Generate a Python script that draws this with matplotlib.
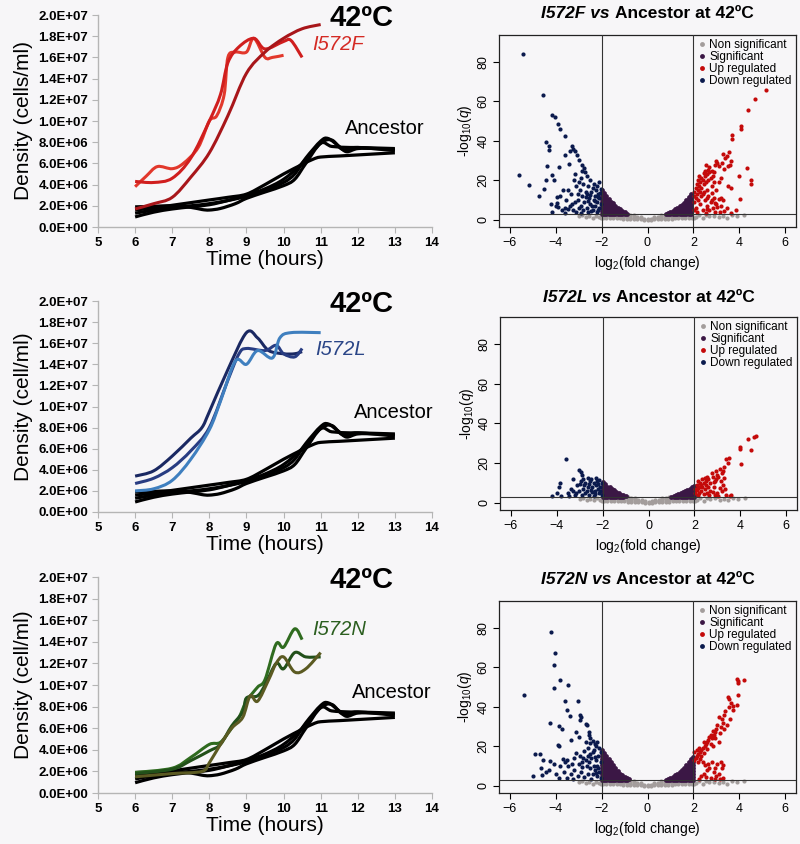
import matplotlib
matplotlib.use("Agg")
import matplotlib.pyplot as plt
from matplotlib.lines import Line2D
from matplotlib.path import Path
from matplotlib.patches import PathPatch
from matplotlib.ticker import FuncFormatter, MultipleLocator

plt.rcParams['font.family'] = ['Liberation Sans', 'DejaVu Sans']
plt.rcParams['mathtext.fontset'] = 'custom'
plt.rcParams['mathtext.rm'] = 'Liberation Sans'
plt.rcParams['mathtext.it'] = 'Liberation Sans:italic'

BG = '#f7f6f8'

# ---------------- growth curves (hours, density in 1e6 cells/ml) ----------------
ANC_T = [
    [6, 6.5, 7, 7.5, 8, 8.5, 9, 9.5, 10, 10.3, 10.6, 11, 11.2, 11.5, 11.7, 12, 12.5, 13],
    [6, 6.5, 7, 7.5, 7.8, 8, 8.3, 8.7, 9, 9.5, 10, 10.3, 10.6, 11, 11.3, 11.8, 12, 13],
    [6, 6.5, 7, 7.5, 8, 8.5, 9, 9.5, 10, 10.5, 10.8, 11, 11.5, 12, 13],
    [6, 6.5, 7, 7.5, 8, 8.5, 9, 9.5, 10, 10.5, 11, 11.3, 11.6, 12, 13],
]
ANC_Y = [
    [1.3, 1.6, 1.85, 2.0, 2.2, 2.5, 2.9, 3.5, 4.2, 5.0, 6.5, 8.1, 8.35, 7.6, 7.1, 7.4, 7.4, 7.3],
    [1.9, 1.95, 2.0, 1.85, 1.65, 1.6, 1.75, 2.2, 2.7, 3.3, 3.9, 4.5, 6.0, 7.9, 7.6, 7.5, 7.5, 7.4],
    [1.6, 1.8, 2.05, 2.3, 2.55, 2.8, 3.1, 4.0, 5.0, 5.9, 6.4, 6.6, 6.7, 6.8, 7.0],
    [0.95, 1.4, 1.7, 1.9, 2.1, 2.5, 3.0, 3.6, 4.5, 6.0, 7.9, 8.2, 7.3, 7.5, 7.2],
]

F_T = [
    [6, 6.3, 6.6, 7, 7.3, 7.7, 8, 8.2, 8.4, 8.5, 8.7, 9, 9.2, 9.5, 9.7, 10],
    [6, 6.5, 7, 7.5, 8, 8.3, 8.5, 8.8, 9.2, 9.5, 10, 10.2, 10.5],
    [6, 6.5, 7, 7.5, 8, 8.5, 9, 9.5, 10, 10.5, 11],
]
F_Y = [
    [3.8, 4.8, 5.7, 5.5, 6.0, 7.5, 10.0, 10.5, 12.5, 16.0, 16.5, 16.5, 17.8, 16.0, 16.0, 16.2],
    [4.3, 4.2, 4.6, 6.5, 10.0, 12.5, 15.5, 17.0, 17.8, 16.8, 17.5, 17.6, 16.0],
    [1.7, 2.2, 2.8, 4.7, 7.0, 10.5, 14.5, 16.5, 17.8, 18.7, 19.1],
]
F_COL = ['#e2382c', '#d01e1e', '#a8161a']

L_T = [
    [6, 6.5, 7, 7.5, 7.8, 8, 8.5, 9, 9.3, 9.6, 10, 10.3, 10.5],
    [6, 6.5, 7, 7.5, 8, 8.5, 8.8, 9, 9.5, 9.8, 10, 10.3, 10.5],
    [6, 6.5, 7, 7.5, 8, 8.3, 8.7, 9, 9.3, 9.7, 9.9, 10.2, 11],
]
L_Y = [
    [3.4, 3.9, 5.3, 7.0, 8.0, 9.5, 13.5, 17.0, 16.5, 15.3, 15.0, 15.0, 15.2],
    [2.7, 3.2, 4.2, 5.8, 8.0, 12.5, 15.0, 15.5, 15.3, 15.8, 15.0, 14.7, 15.5],
    [2.0, 2.2, 3.0, 5.0, 7.8, 10.5, 14.3, 14.0, 15.3, 14.6, 16.5, 17.0, 17.0],
]
L_COL = ['#1a2862', '#283c82', '#3f7fbf']

N_T = [
    [6, 7, 7.5, 8, 8.3, 8.6, 8.8, 9, 9.3, 9.5, 9.8, 10, 10.3, 10.5],
    [6, 7, 7.5, 8, 8.3, 8.6, 8.9, 9, 9.3, 9.5, 9.8, 10, 10.3, 10.6, 11],
    [6, 7, 7.8, 8, 8.3, 8.6, 8.9, 9.1, 9.3, 9.6, 9.8, 10, 10.3, 10.6, 11],
]
N_Y = [
    [1.9, 2.3, 3.3, 4.5, 4.7, 6.0, 7.0, 8.5, 9.8, 10.5, 13.8, 13.5, 15.2, 14.2],
    [1.8, 2.2, 3.0, 3.9, 4.5, 6.2, 7.5, 8.8, 9.0, 10.0, 12.0, 11.5, 13.0, 12.6, 12.6],
    [1.5, 1.8, 2.0, 2.8, 4.5, 6.0, 7.0, 9.0, 8.5, 10.5, 12.0, 12.6, 11.2, 11.5, 13.0],
]
N_COL = ['#2f6b1f', '#22501a', '#5b5a22']

MUT_NAMES = ['I572F', 'I572L', 'I572N']
MUT_LABEL_COL = ['#d42a24', '#2a4587', '#2b5e1f']
YLABELS = ['Density (cells/ml)', 'Density (cell/ml)', 'Density (cell/ml)']

# ---------------- volcano data (log2 fold change, -log10 q) ----------------
GRAY = [(0.0, 0.1), (0.0, 0.6), (0.15, 0.15), (0.15, 0.7), (-0.15, 0.15), (-0.15, 0.7),
        (0.3, 0.2), (0.3, 0.8), (0.3, 1.3), (-0.3, 0.2), (-0.3, 0.8), (-0.3, 1.3),
        (0.45, 0.3), (0.45, 0.9), (0.45, 1.5), (-0.45, 0.3), (-0.45, 0.9), (-0.45, 1.5),
        (0.6, 0.4), (0.6, 1.0), (0.6, 1.7), (0.6, 2.3), (-0.6, 0.4), (-0.6, 1.0), (-0.6, 1.7), (-0.6, 2.3),
        (0.75, 0.5), (0.75, 1.2), (0.75, 1.9), (0.75, 2.6), (-0.75, 0.5), (-0.75, 1.2), (-0.75, 1.9), (-0.75, 2.6),
        (0.9, 0.6), (0.9, 1.3), (0.9, 2.0), (0.9, 2.8), (-0.9, 0.6), (-0.9, 1.3), (-0.9, 2.0), (-0.9, 2.8),
        (1.05, 0.7), (1.05, 1.4), (1.05, 2.2), (1.05, 2.9), (-1.05, 0.7), (-1.05, 1.4), (-1.05, 2.2), (-1.05, 2.9),
        (1.2, 0.8), (1.2, 1.6), (1.2, 2.4), (-1.2, 0.8), (-1.2, 1.6), (-1.2, 2.4),
        (1.35, 0.8), (1.35, 1.7), (1.35, 2.5), (-1.35, 0.8), (-1.35, 1.7), (-1.35, 2.5),
        (1.5, 0.9), (1.5, 1.8), (1.5, 2.6), (-1.5, 0.9), (-1.5, 1.8), (-1.5, 2.6),
        (1.65, 1.0), (1.65, 1.9), (1.65, 2.7), (-1.65, 1.0), (-1.65, 1.9), (-1.65, 2.7),
        (1.8, 1.0), (1.8, 2.0), (1.8, 2.8), (-1.8, 1.0), (-1.8, 2.0), (-1.8, 2.8),
        (1.95, 1.1), (1.95, 2.1), (-1.95, 1.1), (-1.95, 2.1),
        (-2.1, 1.5), (-2.25, 2.2), (-2.4, 1.2), (-2.55, 2.0), (-2.7, 1.6), (-2.85, 2.4), (-3.0, 1.8),
        (2.1, 1.4), (2.25, 2.3), (2.4, 1.0), (2.55, 2.5), (2.7, 1.8), (2.9, 2.2), (3.1, 1.5),
        (3.3, 2.0), (3.45, 1.2), (3.7, 2.4), (4.2, 2.5), (3.9, 1.8), (2.05, 0.8), (-2.05, 0.9)]

PURPLE_F = [(-2.0, [3, 4.5, 6, 7.5, 9, 10.5, 12, 13.5, 15]), (-1.9, [3, 4.5, 6, 7.5, 9, 10.5, 12, 13.5]),
            (-1.8, [3, 4.5, 6, 7.5, 9, 10.5, 12]), (-1.7, [3, 4.5, 6, 7.5, 9, 10.5]),
            (-1.6, [3, 4.5, 6, 7.5, 9]), (-1.5, [3, 4.5, 6, 7.5, 8.5]), (-1.4, [3, 4.5, 6, 7.2]),
            (-1.3, [3, 4.5, 6]), (-1.2, [3, 4.3, 5.3]), (-1.1, [3, 4.3]), (-1.0, [3, 3.8]), (-0.9, [3.2]),
            (0.8, [3.2]), (0.9, [3, 3.6]), (1.0, [3, 4]), (1.1, [3, 4.3]), (1.2, [3, 4.5, 5.3]),
            (1.3, [3, 4.5, 6]), (1.4, [3, 4.5, 6, 7]), (1.5, [3, 4.5, 6, 7.5]), (1.6, [3, 4.5, 6, 7.5, 8.5]),
            (1.7, [3, 4.5, 6, 7.5, 9, 10]), (1.8, [3, 4.5, 6, 7.5, 9, 10.5, 11.5]),
            (1.9, [3, 4.5, 6, 7.5, 9, 10.5, 12, 13])]
PURPLE_L = [(-2.0, [3, 4.3, 5.6, 6.9, 8.2, 9.5, 10.5]), (-1.9, [3, 4.3, 5.6, 6.9, 8.2, 9.5]),
            (-1.8, [3, 4.3, 5.6, 6.9, 8.2]), (-1.7, [3, 4.3, 5.6, 6.9, 7.8]), (-1.6, [3, 4.3, 5.6, 6.9]),
            (-1.5, [3, 4.3, 5.6, 6.3]), (-1.4, [3, 4.3, 5.5]), (-1.3, [3, 4.2, 5]), (-1.2, [3, 4.2]),
            (-1.1, [3, 3.8]), (-1.0, [3.2]),
            (1.0, [3.1]), (1.1, [3, 3.6]), (1.2, [3, 4]), (1.3, [3, 4.3]), (1.4, [3, 4.2, 4.8]),
            (1.5, [3, 4.2, 5.3]), (1.6, [3, 4.2, 5.4, 6]), (1.7, [3, 4.2, 5.4, 6.5]),
            (1.8, [3, 4.2, 5.4, 6.6, 7.2]), (1.9, [3, 4.2, 5.4, 6.6, 7.8]), (1.97, [3, 4.2, 5.4, 6.6, 7.8, 8.5])]
PURPLE_N = [(-2.0, [3, 4.5, 6, 7.5, 9, 10.5, 12, 13.5, 15, 16.5, 18]),
            (-1.9, [3, 4.5, 6, 7.5, 9, 10.5, 12, 13.5, 15, 16.5]),
            (-1.8, [3, 4.5, 6, 7.5, 9, 10.5, 12, 13.5, 15]), (-1.7, [3, 4.5, 6, 7.5, 9, 10.5, 12, 13.5]),
            (-1.6, [3, 4.5, 6, 7.5, 9, 10.5, 12]), (-1.5, [3, 4.5, 6, 7.5, 9, 10.5]),
            (-1.4, [3, 4.5, 6, 7.5, 9]), (-1.3, [3, 4.5, 6, 7.5]), (-1.2, [3, 4.5, 6]),
            (-1.1, [3, 4.5, 5.3]), (-1.0, [3, 4.3]), (-0.9, [3, 3.8]), (-0.8, [3.3]),
            (0.8, [3.1]), (0.9, [3, 3.6]), (1.0, [3, 4.2]), (1.1, [3, 4.5]), (1.2, [3, 4.5, 5.5]),
            (1.3, [3, 4.5, 6]), (1.4, [3, 4.5, 6, 7]), (1.5, [3, 4.5, 6, 7.5, 8.2]),
            (1.6, [3, 4.5, 6, 7.5, 9]), (1.7, [3, 4.5, 6, 7.5, 9, 10.5]),
            (1.8, [3, 4.5, 6, 7.5, 9, 10.5, 12]), (1.9, [3, 4.5, 6, 7.5, 9, 10.5, 12, 13.5]),
            (1.97, [3, 4.5, 6, 7.5, 9, 10.5, 12, 13.5, 14.5])]

F_DOWN = [(-5.45, 84), (-4.55, 63), (-4.15, 53), (-4.05, 52), (-3.9, 48.5), (-3.82, 46), (-3.62, 42.5),
          (-4.45, 39.5), (-4.32, 37.5), (-4.32, 35.5), (-3.3, 37.5), (-3.25, 36), (-3.38, 35), (-3.18, 35),
          (-3.08, 33), (-3.58, 33), (-2.98, 30.5), (-2.88, 28), (-2.78, 26.5), (-3.85, 27), (-4.4, 27.5),
          (-3.42, 28.5), (-2.85, 25), (-2.72, 24), (-2.62, 22), (-2.52, 20), (-5.6, 22.8), (-5.15, 17.8),
          (-4.72, 12.2), (-4.5, 15.5), (-4.42, 20.2), (-4.18, 22.5), (-4.08, 20), (-4.2, 8), (-4.18, 4),
          (-3.95, 8.5), (-3.9, 6.5), (-3.8, 12), (-3.68, 15), (-3.6, 6), (-3.55, 10), (-3.48, 5.5),
          (-3.45, 15), (-3.35, 13), (-3.3, 8), (-3.25, 5), (-3.2, 20), (-3.12, 17), (-3.05, 10), (-3.0, 19),
          (-2.95, 15), (-2.92, 7), (-2.85, 12), (-2.8, 18), (-2.8, 5), (-2.75, 9), (-2.7, 14), (-2.65, 6),
          (-2.6, 17), (-2.55, 11), (-2.5, 8), (-2.45, 14), (-2.4, 16), (-2.4, 5), (-2.35, 10), (-2.3, 12),
          (-2.3, 7), (-2.25, 15), (-2.2, 9), (-2.2, 4), (-2.15, 13), (-2.1, 11), (-2.1, 6), (-2.05, 15.5),
          (-2.05, 8), (-3.6, 3.5), (-3.1, 4), (-2.9, 3.5), (-2.6, 3.8), (-2.45, 4.5), (-2.15, 5),
          (-2.68, 11.5), (-2.9, 21), (-3.02, 13), (-3.15, 23), (-3.95, 11.8), (-2.5, 12.5), (-2.35, 18),
          (-2.2, 17), (-2.12, 19), (-4.0, 7.2), (-3.75, 5), (-3.4, 6.8), (-3.15, 9), (-2.98, 6),
          (-2.58, 9.5), (-2.28, 9.8), (-2.18, 11.5), (-2.08, 13.5), (-2.42, 7), (-2.62, 13)]
F_UP = [(5.15, 66), (4.7, 61), (4.4, 55.5), (4.1, 47.5), (4.1, 46), (3.7, 43), (3.68, 41), (3.55, 34.5),
        (3.45, 32.5), (3.3, 33.5), (3.38, 31.5), (3.65, 30), (3.6, 28), (3.5, 27.5), (3.25, 29), (3.0, 30),
        (3.05, 29), (3.1, 27.5), (2.95, 28), (4.35, 26.5), (4.52, 20), (4.52, 18), (4.0, 22), (4.02, 10.5),
        (3.65, 16), (3.85, 5), (3.65, 3.5), (3.45, 6), (3.3, 10), (3.2, 21), (3.1, 19), (3.0, 15), (2.9, 24),
        (2.85, 22), (2.8, 25), (2.75, 21), (2.7, 24), (2.65, 20), (2.6, 23), (2.55, 19), (2.5, 22),
        (2.45, 18), (2.4, 20), (2.35, 16), (2.3, 19), (2.25, 17), (2.2, 15), (2.15, 13), (2.1, 16),
        (2.05, 12), (2.05, 9), (2.1, 6), (2.15, 4), (2.2, 10), (2.3, 8), (2.35, 12), (2.4, 5), (2.45, 14),
        (2.5, 10), (2.55, 3.5), (2.6, 7), (2.65, 12), (2.7, 5), (2.75, 9), (2.8, 10), (2.85, 6), (2.9, 11),
        (2.95, 4), (3.0, 8), (3.05, 6.5), (3.1, 10.5), (3.15, 4), (3.2, 7), (2.25, 22), (2.5, 25), (2.7, 27),
        (2.8, 17), (2.6, 15), (2.4, 13), (2.2, 20), (2.05, 14), (2.05, 5), (2.55, 28), (3.35, 26),
        (2.15, 18), (2.35, 21), (2.45, 23.5), (2.65, 25.5), (2.9, 19), (3.2, 11), (3.5, 17), (2.6, 11),
        (2.8, 13.5), (2.1, 11), (2.3, 14), (2.95, 8.5), (3.35, 4.5), (2.6, 5.5)]

L_DOWN = [(-3.6, 22), (-3.85, 10), (-3.9, 8.2), (-3.98, 5), (-3.8, 3.5), (-4.2, 3.2), (-3.5, 5), (-3.4, 7),
          (-3.3, 6), (-3.2, 4), (-3.1, 9), (-3.02, 16.5), (-2.95, 15.5), (-2.9, 14), (-2.95, 11), (-3.0, 9.5),
          (-2.85, 12), (-2.8, 9), (-2.75, 10), (-2.7, 6), (-2.65, 8), (-2.6, 4), (-2.55, 11), (-2.5, 12),
          (-2.45, 8), (-2.4, 10), (-2.35, 6), (-2.3, 9), (-2.25, 11), (-2.2, 7), (-2.15, 5), (-2.1, 8),
          (-2.05, 10), (-2.05, 4), (-3.3, 12), (-2.9, 4), (-2.4, 3.5), (-3.05, 6), (-2.65, 12.5),
          (-2.2, 9.5), (-2.1, 6), (-2.35, 4.5), (-2.5, 6.5), (-2.75, 4.8), (-2.15, 11.5), (-2.3, 12.5),
          (-3.15, 5), (-2.85, 7), (-2.6, 9.5), (-2.45, 5.5), (-3.45, 3.5)]
L_UP = [(4.7, 33.5), (4.62, 33), (4.35, 32), (4.48, 26.5), (4.0, 28), (4.0, 27), (4.02, 19.5), (3.5, 22.5),
        (3.4, 22), (3.45, 20), (3.3, 18), (3.25, 16), (3.1, 17), (3.2, 15), (3.0, 14), (3.05, 13),
        (2.95, 12), (2.9, 11), (2.8, 13), (2.7, 10), (2.6, 12), (2.5, 11), (2.4, 10), (2.3, 9), (2.2, 8),
        (2.1, 9), (2.05, 7), (2.05, 5), (2.15, 4), (2.3, 6), (2.45, 7), (2.55, 5), (2.7, 6), (2.85, 8),
        (3.0, 5), (3.05, 3.5), (3.2, 6), (3.35, 7), (3.4, 4), (3.55, 3.5), (3.62, 4), (3.25, 9),
        (3.15, 11), (2.9, 4), (2.6, 8), (2.35, 12), (2.15, 11), (2.25, 10), (2.5, 9), (2.75, 15),
        (2.95, 16), (2.1, 6.5), (2.2, 5), (2.4, 4.5), (2.65, 3.8), (2.8, 5.5), (3.1, 7.5), (2.45, 12.5),
        (2.55, 13), (2.35, 8), (2.15, 7.5), (3.3, 12.5), (2.85, 10.5)]

N_DOWN = [(-4.2, 78), (-4.05, 67.5), (-4.1, 61), (-4.1, 49.5), (-3.8, 53.5), (-3.45, 51), (-5.4, 46),
          (-3.6, 43), (-3.05, 43), (-3.5, 38.5), (-3.4, 35.5), (-2.95, 36), (-2.9, 35), (-2.95, 33.5),
          (-4.25, 32), (-3.85, 30.5), (-3.75, 29), (-2.7, 31.5), (-2.65, 31), (-3.35, 23), (-3.1, 27.5),
          (-3.0, 25), (-2.55, 27.5), (-2.55, 26), (-2.5, 24), (-2.5, 21.5), (-2.4, 22.5), (-2.3, 21),
          (-2.25, 20), (-2.2, 22), (-2.1, 19), (-2.05, 17), (-3.9, 20.5), (-3.85, 20), (-4.9, 16),
          (-4.7, 16), (-4.55, 13), (-4.25, 12.5), (-4.1, 11), (-4.65, 9), (-5.0, 5), (-4.6, 5.5),
          (-3.85, 4), (-3.7, 13.5), (-3.6, 12), (-3.5, 13), (-3.45, 10), (-3.3, 11), (-3.2, 14),
          (-3.1, 16.5), (-3.0, 11), (-2.95, 15), (-2.85, 9.5), (-2.8, 14), (-2.75, 17.5), (-2.7, 13),
          (-2.65, 10), (-2.6, 19), (-2.55, 12), (-2.5, 16), (-2.45, 14), (-2.4, 6), (-2.35, 18), (-2.3, 8),
          (-2.25, 13), (-2.2, 10), (-2.15, 15), (-2.1, 7), (-2.05, 12), (-2.05, 4), (-2.2, 5), (-2.45, 3.5),
          (-2.6, 6), (-2.75, 4.5), (-2.9, 7), (-3.05, 5), (-3.2, 8), (-3.35, 6), (-3.5, 4), (-3.65, 7),
          (-3.8, 10), (-4.0, 6), (-4.3, 8), (-4.45, 7), (-3.25, 3.5), (-2.35, 10), (-2.7, 22),
          (-2.4, 17), (-2.3, 14.5), (-2.15, 9), (-2.6, 15), (-2.85, 12), (-2.25, 6.5), (-2.5, 9)]
N_UP = [(4.2, 53.5), (3.95, 53), (3.9, 54), (3.95, 52), (3.95, 46), (3.55, 44), (3.5, 45), (3.65, 42),
        (3.55, 40), (3.75, 40.5), (3.75, 38.5), (3.4, 38), (3.35, 36), (3.25, 34), (3.1, 35), (3.3, 32),
        (3.2, 30), (3.05, 31), (3.0, 29), (2.95, 27.5), (2.9, 26), (2.85, 28), (2.75, 26), (2.8, 24),
        (2.7, 25), (2.65, 23), (2.6, 22), (2.55, 21), (2.5, 20), (2.45, 22), (2.4, 19), (2.35, 18),
        (2.3, 17), (2.25, 19), (2.2, 16), (2.15, 15), (2.1, 14), (2.05, 13), (2.05, 17), (2.2, 12),
        (2.3, 13.5), (2.4, 12), (2.5, 10.5), (2.6, 8), (2.65, 11), (2.7, 9), (2.8, 12), (2.9, 7),
        (2.95, 9), (3.05, 11), (3.1, 6), (3.15, 3.5), (3.2, 12), (3.25, 9), (3.3, 4), (3.3, 10.5),
        (2.35, 5), (2.25, 3.5), (2.45, 6), (2.55, 4.5), (2.75, 4), (2.95, 3.5), (3.0, 5), (3.35, 29),
        (3.45, 31), (3.6, 34), (3.9, 41), (3.15, 27), (2.95, 24), (3.1, 22), (2.75, 21), (2.15, 18),
        (2.35, 15), (2.6, 18.5), (2.85, 20), (2.45, 16.5)]

VOLC = [('I572F', PURPLE_F, F_DOWN, F_UP), ('I572L', PURPLE_L, L_DOWN, L_UP), ('I572N', PURPLE_N, N_DOWN, N_UP)]

C_GRAY, C_PURPLE, C_UP, C_DOWN = '#a39d9c', '#3b1745', '#c40a0a', '#0b1a4d'

# ---------------- layout (pixels of 800x844) ----------------
W, H = 800, 844
fig = plt.figure(figsize=(W / 100, H / 100), dpi=100, facecolor=BG)


def ax_px(x0, y0, x1, y1):
    return fig.add_axes([x0 / W, 1 - y1 / H, (x1 - x0) / W, (y1 - y0) / H])


def smooth_line(ax, xs, ys, color, lw):
    """Draw a line through the data points with smooth (Excel-like) Bezier joins."""
    pts = list(zip(xs, ys))
    verts = [pts[0]]
    codes = [Path.MOVETO]
    n = len(pts)
    for k in range(n - 1):
        p0 = pts[k - 1] if k > 0 else pts[k]
        p1, p2 = pts[k], pts[k + 1]
        p3 = pts[k + 2] if k + 2 < n else pts[k + 1]
        c1 = (p1[0] + (p2[0] - p0[0]) / 6, p1[1] + (p2[1] - p0[1]) / 6)
        c2 = (p2[0] - (p3[0] - p1[0]) / 6, p2[1] - (p3[1] - p1[1]) / 6)
        verts += [c1, c2, p2]
        codes += [Path.CURVE4] * 3
    ax.add_patch(PathPatch(Path(verts, codes), fill=False, edgecolor=color, lw=lw,
                           joinstyle='round', capstyle='butt'))


LEFT_BOX = [(98, 15, 432, 227), (98, 301, 432, 512), (98, 577, 432, 793)]
RIGHT_BOX = [(499, 35, 796, 227), (500, 317, 797, 510), (499, 601, 796, 793)]
TITLE_Y = [13, 297, 579]
GROWTH = [(F_T, F_Y, F_COL), (L_T, L_Y, L_COL), (N_T, N_Y, N_COL)]
MUT_LABEL_POS = [(10.77, 17.2), (10.85, 15.4), (10.77, 15.1)]
ANC_LABEL_POS = [(11.66, 9.3), (11.9, 9.4), (11.85, 9.3)]

fmt = FuncFormatter(lambda v, p: '%.1E' % v)

for i in range(3):
    ax = ax_px(*LEFT_BOX[i])
    ax.set_facecolor(BG)
    for t, y in zip(ANC_T, ANC_Y):
        smooth_line(ax, t, [v * 1e6 for v in y], 'black', 2.3)
    ts, ys, cols = GROWTH[i]
    for t, y, c in zip(ts, ys, cols):
        smooth_line(ax, t, [v * 1e6 for v in y], c, 2.2)
    ax.set_xlim(5, 14)
    ax.set_ylim(0, 2e7)
    ax.xaxis.set_major_locator(MultipleLocator(1))
    ax.yaxis.set_major_locator(MultipleLocator(2e6))
    ax.yaxis.set_major_formatter(fmt)
    for s in ['top', 'right']:
        ax.spines[s].set_visible(False)
    for s in ['left', 'bottom']:
        ax.spines[s].set_color('#b5b5b5')
        ax.spines[s].set_linewidth(1.0)
    ax.tick_params(direction='out', length=4, color='#b5b5b5', labelsize=9.5, pad=3)
    for lab in ax.get_xticklabels() + ax.get_yticklabels():
        lab.set_fontweight('bold')
    ax.set_xlabel('Time (hours)', fontsize=15, labelpad=1)
    ax.set_ylabel(YLABELS[i], fontsize=15, labelpad=4)
    ax.text(11.25, 19.7e6, '42ºC', fontsize=21, fontweight='bold', va='center', ha='left')
    ax.text(MUT_LABEL_POS[i][0], MUT_LABEL_POS[i][1] * 1e6, MUT_NAMES[i], fontsize=14.5,
            style='italic', color=MUT_LABEL_COL[i], va='center', ha='left')
    ax.text(ANC_LABEL_POS[i][0], ANC_LABEL_POS[i][1] * 1e6, 'Ancestor', fontsize=14.5,
            va='center', ha='left', clip_on=False)

renderer = fig.canvas.get_renderer()
for i in range(3):
    name, purple, down, up = VOLC[i]
    ax = ax_px(*RIGHT_BOX[i])
    ax.set_facecolor(BG)
    ax.scatter([p[0] for p in GRAY], [p[1] for p in GRAY], s=9, color=C_GRAY, linewidths=0, zorder=2)
    px, py = [], []
    for x, ys in purple:
        for y in ys:
            px.append(x)
            py.append(y)
    ax.scatter(px, py, s=12, color=C_PURPLE, linewidths=0, zorder=3)
    ax.scatter([p[0] for p in up], [p[1] for p in up], s=9, color=C_UP, linewidths=0, zorder=4)
    ax.scatter([p[0] for p in down], [p[1] for p in down], s=9, color=C_DOWN, linewidths=0, zorder=4)
    ax.axvline(-2, color='#333333', lw=0.8, zorder=5)
    ax.axvline(2, color='#333333', lw=0.8, zorder=5)
    ax.axhline(3, color='#333333', lw=0.8, zorder=5)
    ax.set_xlim(-6.48, 6.48)
    ax.set_ylim(-3.6, 93.6)
    ax.set_xticks([-6, -4, -2, 0, 2, 4, 6])
    ax.set_yticks([0, 20, 40, 60, 80])
    ax.tick_params(direction='out', length=4, labelsize=9, width=0.8, pad=3)
    for lab in ax.get_yticklabels():
        lab.set_rotation(90)
        lab.set_va('center')
    for s in ax.spines.values():
        s.set_linewidth(0.9)
        s.set_color('#222222')
    ax.set_xlabel(r'log$_2$(fold change)', fontsize=10, labelpad=4)
    ax.set_ylabel(r'-log$_{10}$($q$)', fontsize=10, labelpad=2)
    handles = [Line2D([], [], ls='none', marker='o', ms=3.5, mec='none', mfc=c)
               for c in [C_GRAY, C_PURPLE, C_UP, C_DOWN]]
    ax.legend(handles, ['Non significant', 'Significant', 'Up regulated', 'Down regulated'],
              loc='upper right', frameon=False, fontsize=8.5, handlelength=0.6, handletextpad=0.3,
              labelspacing=0.0, borderaxespad=0.15, borderpad=0.2)
    cx = (RIGHT_BOX[i][0] + RIGHT_BOX[i][2]) / 2
    ty = 1 - TITLE_Y[i] / H
    t1 = fig.text(0, ty, name + ' vs', fontsize=12.5, fontweight='bold', style='italic', va='center')
    t2 = fig.text(0, ty, 'Ancestor at 42ºC', fontsize=12.5, fontweight='bold', va='center')
    w1 = t1.get_window_extent(renderer).width
    w2 = t2.get_window_extent(renderer).width
    gap = 0.28 * 12.5 * 100 / 72
    x0 = cx - (w1 + gap + w2) / 2
    t1.set_x(x0 / W)
    t2.set_x((x0 + w1 + gap) / W)

fig.savefig('out.png', dpi=100, facecolor=BG)
